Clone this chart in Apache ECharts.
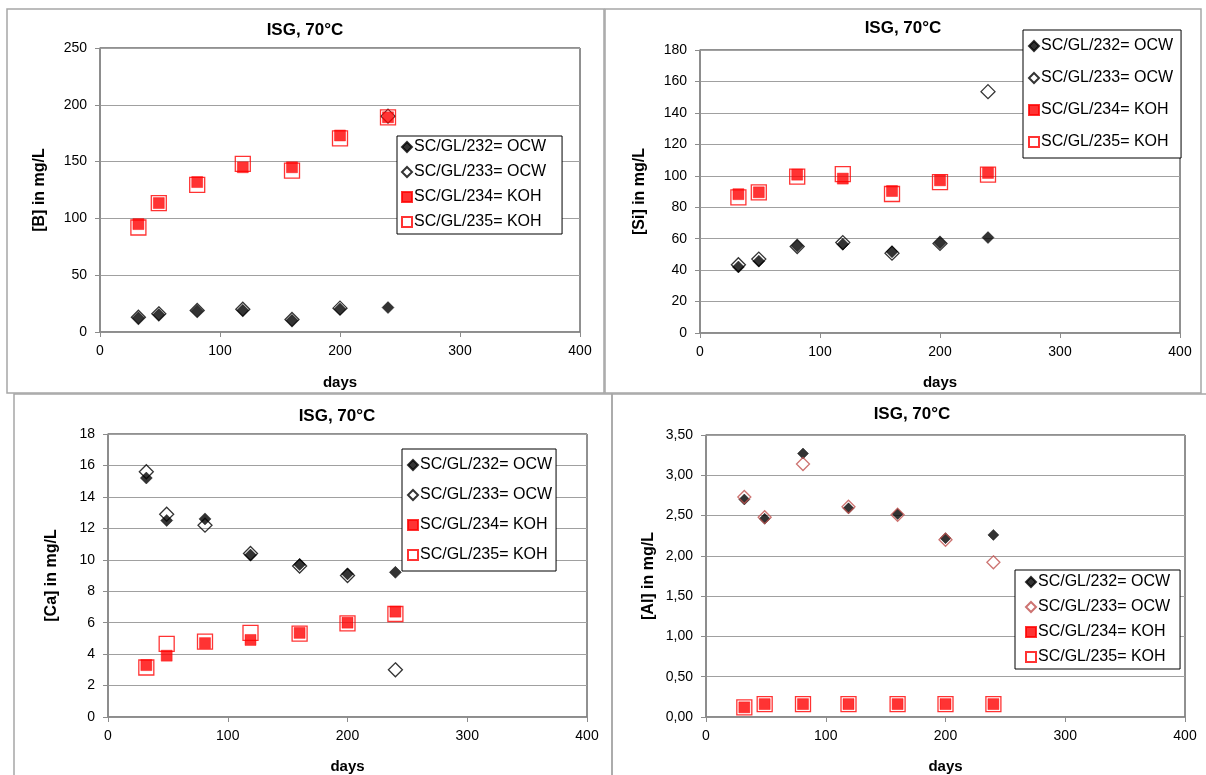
<!DOCTYPE html>
<html>
<head>
<meta charset="utf-8">
<script src="https://cdn.jsdelivr.net/npm/echarts@6/dist/echarts.min.js"></script>
<style>
html,body{margin:0;padding:0;background:#fff;}
#chart{width:1206px;height:775px;}
</style>
</head>
<body>
<div id="chart"></div>
<script>
// ---------- data ----------
const days = [32, 49, 81, 119, 160, 200, 240];

const b232 = [12.5, 15.3, 18.6, 19.1, 10.3, 20.3, 21.5];
const b233 = [13, 16, 19, 20, 11, 21, 190];
const b234 = [95, 113.5, 132, 145, 145, 173, 189];
const b235 = [92, 113.5, 129.5, 148, 142, 170.5, 189];

const si232 = [42, 45.7, 55.4, 56.5, 51.6, 57.3, 60.7];
const si233 = [43.4, 47, 55, 57.5, 50.8, 57, 153.5];
const si234 = [88.3, 89.5, 100.7, 98.2, 90.3, 97.1, 101.8];
const si235 = [86.3, 89.5, 99.4, 101, 88.4, 95.9, 100.7];

const ca232 = [15.2, 12.5, 12.6, 10.3, 9.7, 9.1, 9.2];
const ca233 = [15.6, 12.9, 12.2, 10.4, 9.6, 9.0, 3.0];
const ca234 = [3.3, 3.9, 4.7, 4.9, 5.35, 6.0, 6.7];
const ca235 = [3.15, 4.65, 4.8, 5.35, 5.3, 5.95, 6.55];

const al232 = [2.70, 2.46, 3.27, 2.59, 2.52, 2.22, 2.26];
const al233 = [2.73, 2.48, 3.14, 2.61, 2.51, 2.20, 1.92];
const al234 = [0.12, 0.16, 0.16, 0.16, 0.16, 0.16, 0.16];
const al235 = [0.12, 0.16, 0.16, 0.16, 0.16, 0.16, 0.16];

const seriesLabels = {
  '232': 'SC/GL/232= OCW',
  '233': 'SC/GL/233= OCW',
  '234': 'SC/GL/234= KOH',
  '235': 'SC/GL/235= KOH'
};
const chartTitle = 'ISG, 70°C';
const xName = 'days';
const yNames = ['[B] in mg/L', '[Si] in mg/L', '[Ca] in mg/L', '[Al] in mg/L'];
const xTicks = {min: 0, max: 400, interval: 100};
const yTicks = [
  {min: 0, max: 250, interval: 50},
  {min: 0, max: 180, interval: 20},
  {min: 0, max: 18, interval: 2},
  {min: 0, max: 3.5, interval: 0.5}
];

// ---------- layout / style ----------
const FONT = "'Liberation Sans', Arial, sans-serif";
const grids = [
  {left: 100, top: 48, width: 480, height: 284},
  {left: 700, top: 50, width: 480, height: 283},
  {left: 108, top: 434, width: 479, height: 284},
  {left: 706, top: 435, width: 479, height: 283}
];
const titlePos = [[305, 30], [903, 28], [337, 416], [912, 414]];
const yNameGap = [52, 52, 48, 49];
const xNameGap = [43, 42, 42, 42];

const panels = [
  {key: 'B', sets: [b232, b233, b234, b235], legend: {left: 397, top: 136, gap: 9, pad: [3, 16, 4, 4]}, hollowDiamondColor: '#000', dSize: [12, 14]},
  {key: 'Si', sets: [si232, si233, si234, si235], legend: {left: 1023, top: 30, gap: 16, pad: [8, 8, 8, 5]}, hollowDiamondColor: '#000', dSize: [12, 14]},
  {key: 'Ca', sets: [ca232, ca233, ca234, ca235], legend: {left: 402, top: 449, gap: 14, pad: [8, 4, 8, 5]}, hollowDiamondColor: '#000', dSize: [12, 14]},
  {key: 'Al', sets: [al232, al233, al234, al235], legend: {left: 1015, top: 570, gap: 9, pad: [4, 10, 4, 10]}, hollowDiamondColor: '#c0504d', dSize: [11, 13]}
];

const ids = ['232', '233', '234', '235'];

const option = {
  animation: false,
  backgroundColor: '#fff',
  grid: [], xAxis: [], yAxis: [], series: [], legend: [],
  graphic: []
};

// panel frames
[[7, 9, 597, 384], [605, 9, 596, 384], [14, 394, 598, 400], [612, 394, 600, 400]].forEach(r => {
  option.graphic.push({type: 'rect', shape: {x: r[0], y: r[1], width: r[2], height: r[3]},
    style: {fill: 'none', stroke: '#a6a6a6', lineWidth: 1.5}, z: -10, silent: true});
});

panels.forEach((p, i) => {
  const g = grids[i];
  option.grid.push(Object.assign({show: true, borderColor: '#222', borderWidth: 1, backgroundColor: '#fff'}, g));
  option.graphic.push({type: 'text', x: titlePos[i][0], y: titlePos[i][1],
    style: {text: chartTitle, font: "bold 17px " + FONT, fill: '#000', align: 'center', verticalAlign: 'middle'}});
  option.xAxis.push({
    type: 'value', gridIndex: i, min: xTicks.min, max: xTicks.max, interval: xTicks.interval,
    name: xName, nameLocation: 'middle', nameGap: xNameGap[i],
    nameTextStyle: {fontFamily: FONT, fontWeight: 'bold', fontSize: 15, color: '#000'},
    axisLine: {show: true, onZero: false, lineStyle: {color: '#8c8c8c', width: 1.5}},
    axisTick: {show: true, inside: false, length: 5, lineStyle: {color: '#8c8c8c'}},
    axisLabel: {fontFamily: FONT, fontSize: 14, color: '#000', margin: 12},
    splitLine: {show: false}
  });
  const yt = yTicks[i];
  option.yAxis.push({
    type: 'value', gridIndex: i, min: yt.min, max: yt.max, interval: yt.interval,
    name: yNames[i], nameLocation: 'middle', nameGap: yNameGap[i], nameRotate: 90,
    nameTextStyle: {fontFamily: FONT, fontWeight: 'bold', fontSize: 16, color: '#000'},
    axisLine: {show: true, onZero: false, lineStyle: {color: '#8c8c8c', width: 1.5}},
    axisTick: {show: true, inside: false, length: 5, lineStyle: {color: '#8c8c8c'}},
    axisLabel: {fontFamily: FONT, fontSize: 14, color: '#000', margin: 13,
      formatter: i === 3 ? (v => v.toFixed(2).replace('.', ',')) : (v => String(v))},
    splitLine: {show: true, lineStyle: {color: '#a0a0a0', width: 1}}
  });
  const styles = [
    {symbol: 'diamond', symbolSize: p.dSize[0], itemStyle: {color: '#000', borderColor: '#000', borderWidth: 0.5}},
    {symbol: 'diamond', symbolSize: p.dSize[1], itemStyle: {color: 'rgba(255,255,255,0)', borderColor: p.hollowDiamondColor, borderWidth: 1.3}},
    {symbol: 'rect', symbolSize: 11, itemStyle: {color: '#ff0000', borderColor: '#ff0000', borderWidth: 0.5}},
    {symbol: 'rect', symbolSize: 15, itemStyle: {color: 'rgba(255,255,255,0)', borderColor: '#ff0000', borderWidth: 1.3}}
  ];
  const names = [];
  ids.forEach((id, k) => {
    const name = p.key + '|' + id;
    names.push(name);
    option.series.push(Object.assign({
      type: 'scatter', name: name, xAxisIndex: i, yAxisIndex: i,
      data: days.map((d, j) => [d, p.sets[k][j]]),
      z: 2 + k
    }, styles[k]));
  });
  option.legend.push({
    orient: 'vertical', left: p.legend.left, top: p.legend.top,
    itemWidth: 10, itemHeight: 10, itemGap: p.legend.gap,
    padding: p.legend.pad,
    backgroundColor: '#fff', borderColor: '#000', borderWidth: 1,
    textStyle: {fontFamily: FONT, fontSize: 16, color: '#000', padding: [0, 0, 0, -3]},
    data: names, selectedMode: false,
    formatter: n => seriesLabels[n.split('|')[1]]
  });
});

const chart = echarts.init(document.getElementById('chart'), null, {renderer: 'canvas'});
chart.setOption(option);
</script>
</body>
</html>
